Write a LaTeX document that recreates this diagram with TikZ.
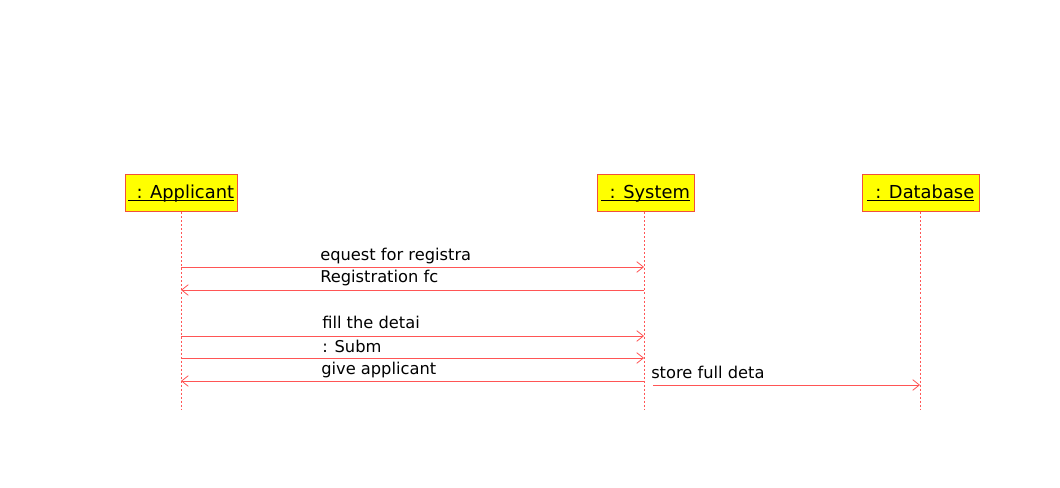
\documentclass[tikz,border=0pt]{standalone}
\usepackage{fontspec}
\setmainfont{DejaVu Sans}
\usetikzlibrary{arrows.meta}
\definecolor{lred}{RGB}{255,85,85}
\definecolor{bord}{RGB}{240,80,60}
\definecolor{yel}{RGB}{255,255,0}
\newcommand{\objlabel}[1]{\underline{\smash{\ \,#1}\vphantom{A}}}
\tikzset{
  obj/.style={draw=bord, fill=yel, line width=0.75pt, minimum height=37*0.75pt, inner sep=0pt, font=\fontsize{13.4pt}{15pt}\selectfont},
  life/.style={draw=lred, line width=0.6pt, dash pattern=on 1.5pt off 1.5pt},
  msg/.style={draw=lred, line width=0.6pt, -{Straight Barb[length=5pt,width=8pt,line width=0.6pt]}},
  lbl/.style={anchor=base west, inner sep=0pt, font=\fontsize{12.2pt}{14pt}\selectfont}
}
\begin{document}
\begin{tikzpicture}[x=0.75pt,y=-0.75pt]
\useasboundingbox (0,0) rectangle (1060,488);
% objects
\node[obj, minimum width=112*0.75pt] (a) at (181,193.5) {\objlabel{: Applicant}};
\node[obj, minimum width=97*0.75pt] (s) at (645.5,193.5) {\objlabel{: System}};
\node[obj, minimum width=117*0.75pt] (d) at (920.5,193.5) {\objlabel{: Database}};
% lifeline ends
\coordinate (ae) at (181,410);
\coordinate (se) at (644,410);
\coordinate (de) at (920,410);
\draw[life] (a.south -| ae) -- (ae);
\draw[life] (s.south -| se) -- (se);
\draw[life] (d.south -| de) -- (de);
% message points
\coordinate (a1) at (181,267); \coordinate (s1) at (644,267);
\coordinate (a2) at (181,290); \coordinate (s2) at (644,290);
\coordinate (a3) at (181,336); \coordinate (s3) at (644,336);
\coordinate (a4) at (181,358); \coordinate (s4) at (644,358);
\coordinate (a5) at (181,381); \coordinate (s5) at (644,381);
\coordinate (s6) at (653,385); \coordinate (d6) at (920,385);
\draw[msg] (a1) -- (s1);
\draw[msg] (s2) -- (a2);
\draw[msg] (a3) -- (s3);
\draw[msg] (a4) -- (s4);
\draw[msg] (s5) -- (a5);
\draw[msg] (s6) -- (d6);
% labels
\node[lbl] (l1) at (320,261) {equest for registra};
\node[lbl] (l2) at (320,283) {Registration fc};
\node[lbl] (l3) at (322,328) {fill the detai};
\node[lbl] (l4) at (322,352) {: Subm};
\node[lbl] (l5) at (321,374) {give applicant};
\node[lbl] (l6) at (651,378) {store full deta};
\end{tikzpicture}
\end{document}
